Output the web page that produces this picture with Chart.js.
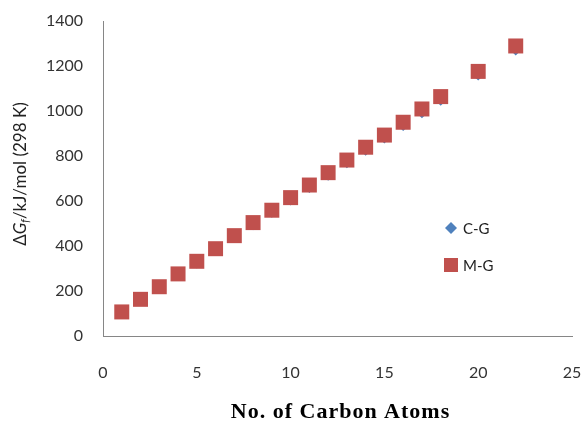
<!DOCTYPE html>
<html>
<head>
<meta charset="utf-8">
<script src="https://cdn.jsdelivr.net/npm/chart.js@4/dist/chart.umd.min.js"></script>
<style>
    html, body { margin: 0; padding: 0; background: #fff; }
    #wrap { width: 584px; height: 423px; }
</style>
</head>
<body>
<div id="wrap"><canvas id="chart"></canvas></div>
<script>
(function() {
    'use strict';

    // Number of carbon atoms
    var carbonAtoms = [1, 2, 3, 4, 5, 6, 7, 8, 9, 10, 11, 12, 13, 14, 15, 16, 17, 18, 20, 22];

    // Gibbs energy of formation, kJ/mol at 298 K
    var cgValues = [104, 160, 215, 271, 327, 383, 440, 497, 552, 607, 662, 717, 772, 828, 882, 938, 995, 1050, 1162, 1273];
    var mgValues = [107, 163, 219, 276, 332, 388, 446, 504, 559, 615, 671, 726, 782, 839, 893, 950, 1009, 1064, 1176, 1289];

    var seriesNames = ['C-G', 'M-G'];
    var xTitle = 'No. of Carbon Atoms';
    var xTicks = [0, 5, 10, 15, 20, 25];
    var yTicks = [0, 200, 400, 600, 800, 1000, 1200, 1400];

    var blue = '#4F81BD';
    var red = '#C0504D';

    function toPoints(values) {
        return values.map(function(v, i) {
            return { x: carbonAtoms[i], y: v };
        });
    }

    // Draws the axis titles (y has italic G and subscript f) and the inner legend
    var extrasPlugin = {
        id: 'extras',
        afterDraw: function(chart) {
            var ctx = chart.ctx;
            var area = chart.chartArea;

            // y axis title
            ctx.save();
            ctx.translate(21, 174);
            ctx.rotate(-Math.PI / 2);
            ctx.fillStyle = '#222';
            ctx.textBaseline = 'middle';
            var parts = [
                { t: '\u0394', f: '17px Lato', dy: 0 },
                { t: 'G', f: 'italic 17px Lato', dy: 0 },
                { t: 'f', f: 'italic 11px Lato', dy: 4 },
                { t: '/kJ/mol (298 K)', f: '17px Lato', dy: 0 }
            ];
            var total = 0;
            parts.forEach(function(p) { ctx.font = p.f; total += ctx.measureText(p.t).width; });
            var x = -total / 2;
            parts.forEach(function(p) {
                ctx.font = p.f;
                ctx.textAlign = 'left';
                ctx.fillText(p.t, x, p.dy);
                x += ctx.measureText(p.t).width;
            });
            ctx.restore();

            // x axis title
            ctx.save();
            ctx.font = 'bold 22px "Liberation Serif"';
            ctx.letterSpacing = '1px';
            ctx.fillStyle = '#000';
            ctx.textAlign = 'center';
            ctx.textBaseline = 'middle';
            ctx.fillText(xTitle, (area.left + area.right) / 2 + 3, 412);
            ctx.restore();

            // legend inside the plot
            ctx.save();
            ctx.font = '15px Lato';
            ctx.textBaseline = 'middle';
            ctx.textAlign = 'left';
            var lx = 451;
            var rows = [228, 265];

            ctx.fillStyle = blue;
            ctx.beginPath();
            ctx.moveTo(lx, rows[0] - 6);
            ctx.lineTo(lx + 6, rows[0]);
            ctx.lineTo(lx, rows[0] + 6);
            ctx.lineTo(lx - 6, rows[0]);
            ctx.closePath();
            ctx.fill();

            ctx.fillStyle = red;
            ctx.fillRect(lx - 7, rows[1] - 7, 14, 14);

            ctx.fillStyle = '#222';
            ctx.fillText(seriesNames[0], lx + 12, rows[0] + 1);
            ctx.fillText(seriesNames[1], lx + 12, rows[1] + 1);
            ctx.restore();
        }
    };

    new Chart(document.getElementById('chart'), {
        type: 'scatter',
        data: {
            datasets: [
                {
                    label: seriesNames[0],
                    data: toPoints(cgValues),
                    pointStyle: 'rectRot',
                    pointRadius: 6,
                    backgroundColor: blue,
                    borderColor: blue,
                    borderWidth: 0,
                    order: 2
                },
                {
                    label: seriesNames[1],
                    data: toPoints(mgValues),
                    pointStyle: 'rect',
                    pointRadius: 10.6,
                    backgroundColor: red,
                    borderColor: red,
                    borderWidth: 0,
                    order: 1
                }
            ]
        },
        options: {
            responsive: true,
            maintainAspectRatio: false,
            animation: false,
            layout: { autoPadding: false, padding: { top: 21, right: 12, bottom: 0, left: 0 } },
            plugins: {
                legend: { display: false },
                tooltip: { enabled: false }
            },
            scales: {
                x: {
                    type: 'linear',
                    min: 0,
                    max: 25,
                    afterBuildTicks: function(axis) {
                        axis.ticks = xTicks.map(function(v) { return { value: v }; });
                    },
                    afterFit: function(axis) {
                        // fixed size, and keep the tick padding out of the side margins
                        axis.height = 87;
                        axis.paddingLeft = 0;
                        axis.paddingRight = 0;
                    },
                    grid: { display: false, drawTicks: false },
                    border: { display: true, color: '#868686', width: 1 },
                    ticks: {
                        padding: 27,
                        color: '#333',
                        font: { family: 'Lato', size: 16 },
                        callback: function(v) { return String(v); }
                    }
                },
                y: {
                    type: 'linear',
                    min: 0,
                    max: 1400,
                    afterBuildTicks: function(axis) {
                        axis.ticks = yTicks.map(function(v) { return { value: v }; });
                    },
                    afterFit: function(axis) {
                        axis.width = 103;
                        axis.paddingTop = 0;
                        axis.paddingBottom = 0;
                    },
                    grid: { display: false, drawTicks: false },
                    border: { display: true, color: '#868686', width: 1 },
                    ticks: {
                        padding: 20,
                        color: '#333',
                        font: { family: 'Lato', size: 16 },
                        callback: function(v) { return String(v); }
                    }
                }
            }
        },
        plugins: [extrasPlugin]
    });
})();
</script>
</body>
</html>
